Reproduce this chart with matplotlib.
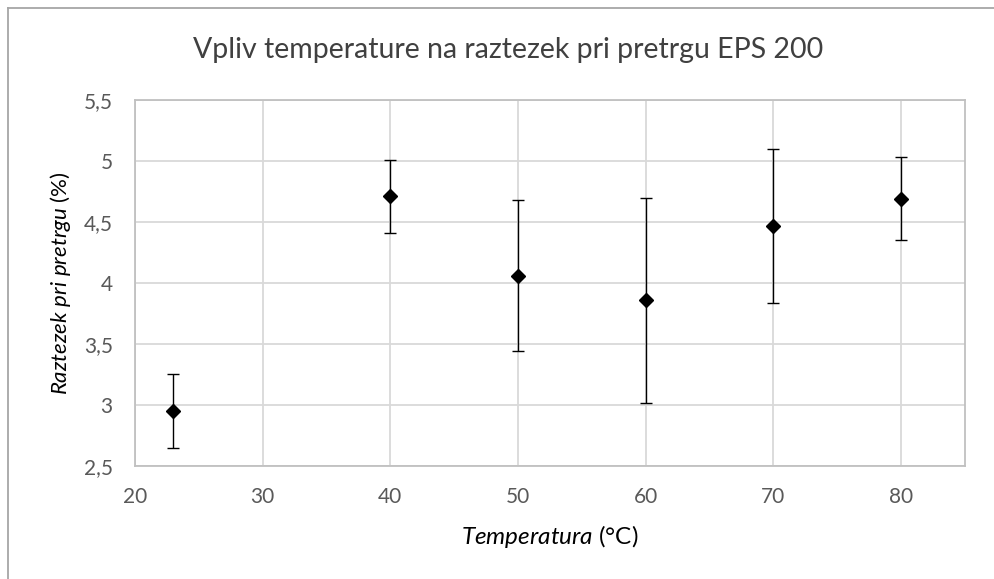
import matplotlib
matplotlib.use("Agg")
import matplotlib.pyplot as plt
from matplotlib.ticker import FuncFormatter, MultipleLocator
from matplotlib.lines import Line2D

# data
temperatura = [23, 40, 50, 60, 70, 80]
raztezek = [2.95, 4.71, 4.06, 3.86, 4.47, 4.69]
napaka = [0.30, 0.30, 0.62, 0.84, 0.63, 0.34]

plt.rcParams['font.family'] = ['Lato', 'DejaVu Sans']
plt.rcParams['mathtext.fontset'] = 'custom'
plt.rcParams['mathtext.rm'] = 'Lato'
plt.rcParams['mathtext.it'] = 'Lato:italic'

fig = plt.figure(figsize=(9.94, 5.79), dpi=100)
ax = fig.add_axes([0.1358, 0.1952, 0.8350, 0.6321])

ax.errorbar(temperatura, raztezek, yerr=napaka, fmt='D', color='black',
            markersize=7, ecolor='black', elinewidth=1.0, capsize=4.5,
            capthick=1.0, zorder=3)

ax.set_xlim(20, 85)
ax.set_ylim(2.5, 5.5)
ax.xaxis.set_major_locator(MultipleLocator(10))
ax.yaxis.set_major_locator(MultipleLocator(0.5))
ax.xaxis.set_major_formatter(FuncFormatter(lambda v, p: f"{v:g}"))
ax.yaxis.set_major_formatter(FuncFormatter(lambda v, p: f"{v:g}".replace('.', ',')))

ax.grid(True, color='#d9d9d9', linewidth=1.3)
ax.set_axisbelow(True)
for s in ax.spines.values():
    s.set_color('#c0c0c0')
    s.set_linewidth(1.3)
ax.tick_params(length=0, labelsize=15, colors='#595959')
ax.tick_params(axis='x', pad=15)
ax.tick_params(axis='y', pad=16)

fig.text(0.511, 0.913, 'Vpliv temperature na raztezek pri pretrgu EPS 200',
         fontsize=20.5, color='#404040', ha='center', va='center')
ax.set_xlabel(r'$\it{Temperatura}$ (°C)', fontsize=17.5, color='black', labelpad=12)
ax.set_ylabel(r'$\it{Raztezek\ pri\ pretrgu}$ (%)', fontsize=16, color='black', labelpad=8)

# chart border (left and top visible)
fig.add_artist(Line2D([0.008, 0.008], [0, 0.986], transform=fig.transFigure,
                      color='#a6a6a6', linewidth=1.3))
fig.add_artist(Line2D([0.008, 1], [0.986, 0.986], transform=fig.transFigure,
                      color='#a6a6a6', linewidth=1.3))

fig.savefig('out.png', dpi=100)
